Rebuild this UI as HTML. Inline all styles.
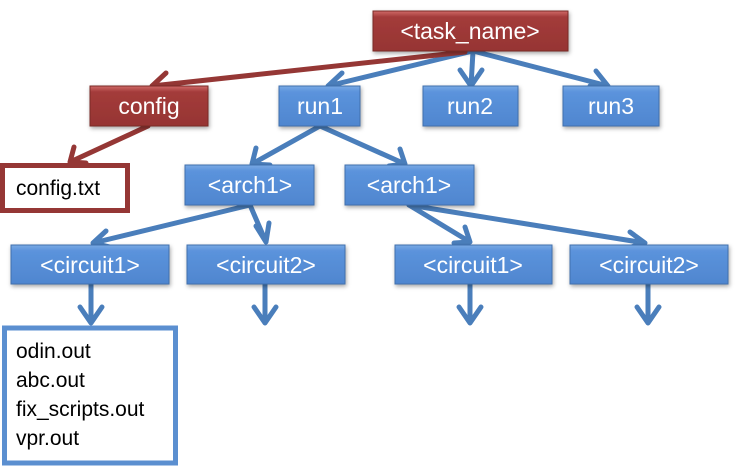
<!DOCTYPE html>
<html><head><style>
html,body{margin:0;padding:0;background:#fff;}
svg{display:block}
text{font-family:"Liberation Sans",sans-serif;}
</style></head><body>
<svg width="737" height="470" viewBox="0 0 737 470" xmlns="http://www.w3.org/2000/svg">
<defs>
<linearGradient id="b" x1="0" y1="0" x2="0" y2="1"><stop offset="0" stop-color="#7aaae4"/><stop offset="0.15" stop-color="#5b93dc"/><stop offset="1" stop-color="#4f86cf"/></linearGradient>
<linearGradient id="r" x1="0" y1="0" x2="0" y2="1"><stop offset="0" stop-color="#d06a68"/><stop offset="0.15" stop-color="#a33b3a"/><stop offset="1" stop-color="#963533"/></linearGradient>
<filter id="s" x="-10%" y="-10%" width="130%" height="140%"><feDropShadow dx="1" dy="2" stdDev="1.5" flood-opacity="0.35"/></filter>
</defs>
<g stroke-width="5" fill="none" stroke-linecap="round" stroke-linejoin="round">
<g stroke="#4a7ebb">
<path d="M473 51 L328 86 M342 73 L328 86 L346 91"/>
<path d="M473 51 L471 86 M460 70 L471 86 L482 70"/>
<path d="M473 51 L608 86 M590 86 L608 86 L596 71"/>
<path d="M320 126 L252 164 M256 148 L252 164 L270 165"/>
<path d="M320 126 L405 164 M389 166 L405 164 L400 149"/>
<path d="M250 205 L93 243 M106 231 L93 243 L110 247"/>
<path d="M250 205 L266 242 M256 226 L266 242 L269 223"/>
<path d="M409 205 L470 242 M454 243 L470 242 L465 227"/>
<path d="M409 205 L645 243 M630 232 L645 243 L628 248"/>
<path d="M91 284 L91 323 M80 307 L91 323 L102 307"/>
<path d="M265 284 L265 323 M254 307 L265 323 L276 307"/>
<path d="M470 284 L470 323 M459 307 L470 323 L481 307"/>
<path d="M648 284 L648 323 M637 307 L648 323 L659 307"/>
</g>
<g stroke="#953735">
<path d="M465 52 L152 86 M166 73 L152 86 L169 90"/>
<path d="M148 126 L70 162 M74 147 L70 162 L86 163"/>
</g>
</g>
<g filter="url(#s)" stroke-width="1">
<rect x="373" y="11" width="195" height="40" fill="url(#r)" stroke="#7a2a28"/>
<rect x="90" y="86" width="118" height="40" fill="url(#r)" stroke="#7a2a28"/>
<rect x="279" y="86" width="81" height="40" fill="url(#b)" stroke="#3f6fae"/>
<rect x="423" y="86" width="95" height="40" fill="url(#b)" stroke="#3f6fae"/>
<rect x="563" y="86" width="96" height="40" fill="url(#b)" stroke="#3f6fae"/>
<rect x="185" y="165" width="129" height="40" fill="url(#b)" stroke="#3f6fae"/>
<rect x="345" y="165" width="129" height="40" fill="url(#b)" stroke="#3f6fae"/>
<rect x="11" y="245" width="158" height="39" fill="url(#b)" stroke="#3f6fae"/>
<rect x="187" y="245" width="158" height="39" fill="url(#b)" stroke="#3f6fae"/>
<rect x="395" y="245" width="157" height="39" fill="url(#b)" stroke="#3f6fae"/>
<rect x="570" y="245" width="158" height="39" fill="url(#b)" stroke="#3f6fae"/>
</g>
<rect x="2.5" y="165.5" width="125" height="45" fill="#fff" stroke="#953735" stroke-width="5"/>
<rect x="4.5" y="328" width="171" height="135" fill="#fff" stroke="#5b8fd0" stroke-width="5"/>
<g fill="#fff" font-size="23" text-anchor="middle">
<text x="470" y="39">&lt;task_name&gt;</text>
<text x="149" y="114">config</text>
<text x="320" y="114">run1</text>
<text x="470" y="114">run2</text>
<text x="611" y="114">run3</text>
<text x="250" y="193">&lt;arch1&gt;</text>
<text x="409" y="193">&lt;arch1&gt;</text>
<text x="90" y="273">&lt;circuit1&gt;</text>
<text x="266" y="273">&lt;circuit2&gt;</text>
<text x="473" y="273">&lt;circuit1&gt;</text>
<text x="649" y="273">&lt;circuit2&gt;</text>
</g>
<g fill="#000" font-size="21">
<text x="16" y="195">config.txt</text>
<text x="16" y="358">odin.out</text>
<text x="16" y="387">abc.out</text>
<text x="16" y="416">fix_scripts.out</text>
<text x="16" y="445">vpr.out</text>
</g>
</svg>
</body></html>
